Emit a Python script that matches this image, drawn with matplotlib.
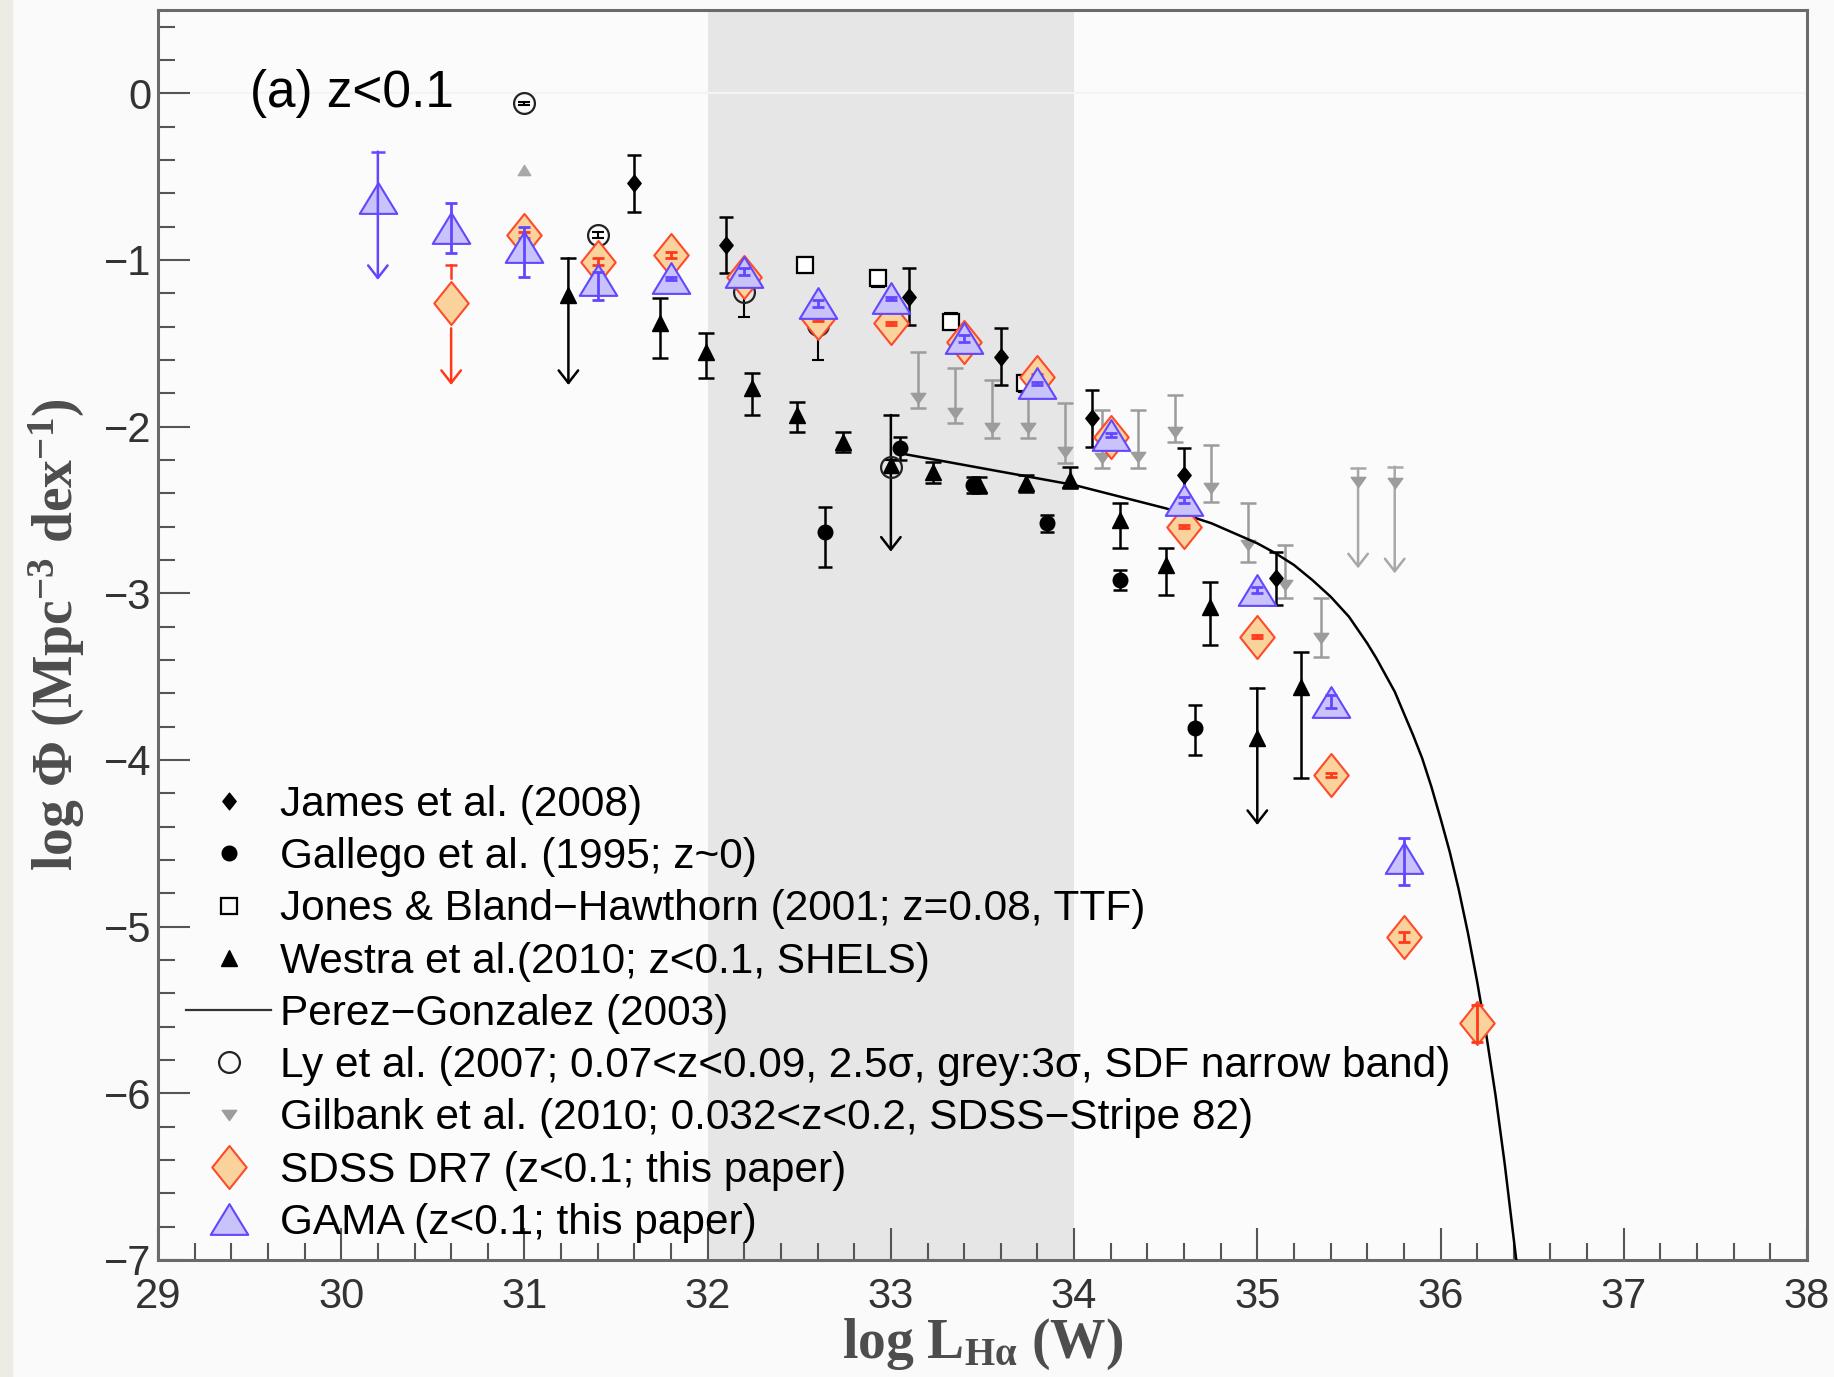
import matplotlib

matplotlib.use("Agg")
import matplotlib.pyplot as plt
from matplotlib.lines import Line2D
from matplotlib.path import Path
from matplotlib.patches import Rectangle
from matplotlib.ticker import MultipleLocator

plt.rcParams["font.family"] = ["Liberation Sans", "DejaVu Sans"]
plt.rcParams["mathtext.fontset"] = "custom"
plt.rcParams["mathtext.rm"] = "Liberation Serif:bold"
plt.rcParams["mathtext.it"] = "Liberation Serif:italic:bold"
plt.rcParams["mathtext.bf"] = "Liberation Serif:bold"

# ---- values (x = log L_Halpha [W], y = log Phi) ----
james_x = [31.6, 32.1, 33.1, 33.6, 34.1, 34.6, 35.1]
james_y = [-0.54, -0.91, -1.22, -1.58, -1.95, -2.29, -2.91]
james_err = [0.17, 0.17, 0.17, 0.17, 0.17, 0.16, 0.16]

gallego_x = [32.64, 33.05, 33.45, 33.85, 34.25, 34.66]
gallego_y = [-2.63, -2.13, -2.35, -2.58, -2.92, -3.81]
gallego_lo = [0.21, 0.07, 0.05, 0.05, 0.06, 0.16]
gallego_hi = [0.15, 0.07, 0.05, 0.05, 0.06, 0.14]

jones_x = [32.53, 32.93, 33.33, 33.73]
jones_y = [-1.03, -1.11, -1.37, -1.74]
jones_err = [0.05, 0.05, 0.05, 0.05]

westra_x = [31.74, 31.99, 32.24, 32.49, 32.74, 33.23, 33.48, 33.74, 33.98, 34.25, 34.50, 34.74, 35.24]
westra_y = [-1.38, -1.55, -1.77, -1.93, -2.09, -2.27, -2.35, -2.34, -2.32, -2.56, -2.83, -3.08, -3.56]
westra_lo = [0.21, 0.16, 0.16, 0.10, 0.06, 0.07, 0.05, 0.05, 0.05, 0.17, 0.18, 0.23, 0.55]
westra_hi = [0.15, 0.11, 0.09, 0.08, 0.06, 0.06, 0.05, 0.05, 0.08, 0.10, 0.10, 0.15, 0.21]
westra_lim_x = [31.24, 33.0, 35.0]
westra_lim_y = [-1.21, -2.23, -3.87]
westra_lim_top = [-0.99, -1.93, -3.57]
westra_lim_tip = [-1.75, -2.75, -4.39]

perez_x = [33.05, 33.5, 34.0, 34.5, 34.75, 35.0, 35.1, 35.2, 35.3, 35.4, 35.5, 35.6, 35.65, 35.75,
           35.85, 35.9, 35.95, 36.0, 36.05, 36.1, 36.15, 36.2, 36.25, 36.3, 36.35, 36.42]
perez_y = [-2.16, -2.25, -2.35, -2.49, -2.58, -2.70, -2.76, -2.83, -2.92, -3.02, -3.14, -3.30, -3.39, -3.59,
           -3.85, -3.99, -4.16, -4.35, -4.55, -4.78, -5.04, -5.33, -5.65, -6.01, -6.42, -7.06]

ly_x = [31.0, 31.4, 32.2, 32.6, 33.0]
ly_y = [-0.06, -0.85, -1.19, -1.39, -2.24]
ly_lo = [0.01, 0.02, 0.15, 0.21, 0.04]
ly_hi = [0.01, 0.02, 0.03, 0.04, 0.04]
ly_grey_x = [31.0]
ly_grey_y = [-0.46]

gilbank_x = [33.15, 33.35, 33.55, 33.75, 33.95, 34.15, 34.35, 34.55, 34.75, 34.95, 35.15, 35.35]
gilbank_y = [-1.83, -1.92, -2.01, -2.01, -2.15, -2.19, -2.18, -2.03, -2.37, -2.71, -2.95, -3.27]
gilbank_top = [-1.55, -1.65, -1.72, -1.80, -1.86, -1.90, -1.90, -1.81, -2.11, -2.46, -2.71, -3.03]
gilbank_bot = [-1.89, -1.98, -2.07, -2.07, -2.22, -2.25, -2.25, -2.09, -2.45, -2.81, -3.03, -3.38]
gilbank_lim_x = [35.55, 35.75]
gilbank_lim_y = [-2.33, -2.34]
gilbank_lim_top = [-2.25, -2.24]
gilbank_lim_tip = [-2.85, -2.88]

sdss_x = [31.0, 31.4, 31.8, 32.2, 32.6, 33.0, 33.4, 33.8, 34.2, 34.6, 35.0, 35.4, 35.8, 36.2]
sdss_y = [-0.85, -1.01, -0.97, -1.10, -1.35, -1.38, -1.49, -1.70, -2.06, -2.60, -3.26, -4.09, -5.06, -5.58]
sdss_err = [0.02, 0.02, 0.02, 0.015, 0.015, 0.01, 0.015, 0.015, 0.015, 0.01, 0.01, 0.01, 0.03, 0.11]
sdss_lim_x = [30.6]
sdss_lim_y = [-1.26]
sdss_lim_top = [-1.03]
sdss_lim_tip = [-1.75]

gama_x = [30.6, 31.0, 31.4, 31.8, 32.2, 32.6, 33.0, 33.4, 33.8, 34.2, 34.6, 35.0, 35.4, 35.8]
gama_y = [-0.81, -0.92, -1.12, -1.11, -1.07, -1.26, -1.23, -1.47, -1.74, -2.05, -2.44, -2.98, -3.65, -4.59]
gama_lo = [0.15, 0.18, 0.12, 0.01, 0.02, 0.02, 0.01, 0.02, 0.01, 0.01, 0.02, 0.02, 0.04, 0.16]
gama_hi = [0.15, 0.12, 0.05, 0.01, 0.02, 0.02, 0.01, 0.02, 0.01, 0.01, 0.02, 0.02, 0.04, 0.12]
gama_lim_x = [30.2]
gama_lim_y = [-0.63]
gama_lim_top = [-0.35]
gama_lim_tip = [-1.12]

legend_labels = [
    "James et al. (2008)",
    "Gallego et al. (1995; z~0)",
    "Jones & Bland\u2212Hawthorn (2001; z=0.08, TTF)",
    "Westra et al.(2010; z<0.1, SHELS)",
    "Perez\u2212Gonzalez (2003)",
    "Ly et al. (2007; 0.07<z<0.09, 2.5\u03c3, grey:3\u03c3, SDF narrow band)",
    "Gilbank et al. (2010; 0.032<z<0.2, SDSS\u2212Stripe 82)",
    "SDSS DR7 (z<0.1; this paper)",
    "GAMA (z<0.1; this paper)",
]

# ---- marker shapes ----
MV, LT, CP = Path.MOVETO, Path.LINETO, Path.CLOSEPOLY
tall_diamond = Path([(0, 1), (0.8, 0), (0, -1), (-0.8, 0), (0, 1)], [MV, LT, LT, LT, CP])
flat_tri_up = Path([(0, 0.82), (1, -0.82), (-1, -0.82), (0, 0.82)], [MV, LT, LT, CP])
flat_tri_down = Path([(0, -0.7), (1, 0.7), (-1, 0.7), (0, -0.7)], [MV, LT, LT, CP])

BLACK = "black"
GREY = "#9c9c9c"
SDSS_EDGE, SDSS_FACE, SDSS_ERR = "#ff4a2a", "#fad39c", "#ff3a1c"
GAMA_EDGE, GAMA_FACE = "#6247ff", "#c9c3fb"
ARROW = "->,head_length=9,head_width=7"

fig = plt.figure(figsize=(18.34, 13.77), dpi=100, facecolor="#fafafa")
fig.add_artist(Rectangle((0, 0), 0.0065, 1, transform=fig.transFigure, color="#eeeae4", zorder=0))
ax = fig.add_axes([0.08615, 0.08497, 0.8991, 0.9078])
ax.set_facecolor("#fbfbfb")

ax.axvspan(32, 34, color="#e6e6e6", lw=0, zorder=0.5)
ax.axhline(0, color="#f4f4f4", lw=1.5, zorder=0.6)


def draw_arrow(x, start, tip, color, lw, z):
    ax.annotate("", xy=(x, tip), xytext=(x, start),
                arrowprops=dict(arrowstyle=ARROW, mutation_scale=1, color=color, lw=lw,
                                shrinkA=0, shrinkB=0), zorder=z)


def draw_limits(xs, tops, tips, color, lw, capsize, z):
    for x, top, tip in zip(xs, tops, tips):
        draw_arrow(x, top, tip, color, lw, z)
    ax.plot(xs, tops, ls="none", marker="_", ms=2 * capsize, mew=lw, color=color, zorder=z)


# Gilbank (grey)
ax.errorbar(gilbank_x, gilbank_y,
            yerr=[[y - b for y, b in zip(gilbank_y, gilbank_bot)], [t - y for t, y in zip(gilbank_top, gilbank_y)]],
            fmt="none", ecolor=GREY, elinewidth=1.8, capsize=5.5, capthick=1.8, zorder=2)
ax.plot(gilbank_x, gilbank_y, ls="none", marker=flat_tri_down, ms=10.5, color=GREY, zorder=2.1)
draw_limits(gilbank_lim_x, gilbank_lim_top, gilbank_lim_tip, "#a8a8a8", 1.8, 5.5, 2)
ax.plot(gilbank_lim_x, gilbank_lim_y, ls="none", marker=flat_tri_down, ms=10.5, color=GREY, zorder=2.1)
ax.plot(ly_grey_x, ly_grey_y, ls="none", marker=flat_tri_up, ms=9, color="#a8a8a8", zorder=2.1)

# black literature points
ax.errorbar(james_x, james_y, yerr=james_err, fmt="none", ecolor=BLACK, elinewidth=1.8,
            capsize=5, capthick=1.8, zorder=3)
ax.plot(james_x, james_y, ls="none", marker=tall_diamond, ms=12, color=BLACK, zorder=3.1)

ax.errorbar(gallego_x, gallego_y, yerr=[gallego_lo, gallego_hi], fmt="none", ecolor=BLACK,
            elinewidth=1.8, capsize=5, capthick=1.8, zorder=3)
ax.plot(gallego_x, gallego_y, ls="none", marker="o", ms=10.5, color=BLACK, zorder=3.1)

ax.errorbar(jones_x, jones_y, yerr=jones_err, fmt="none", ecolor=BLACK, elinewidth=1.5,
            capsize=5, capthick=1.5, zorder=3)
ax.plot(jones_x, jones_y, ls="none", marker="s", ms=12, mfc="white", mec=BLACK, mew=1.6, zorder=3.1)

ax.errorbar(westra_x, westra_y, yerr=[westra_lo, westra_hi], fmt="none", ecolor=BLACK,
            elinewidth=1.8, capsize=5.8, capthick=1.8, zorder=3)
ax.plot(westra_x, westra_y, ls="none", marker="^", ms=11, color=BLACK, zorder=3.1)
draw_limits(westra_lim_x, westra_lim_top, westra_lim_tip, BLACK, 1.8, 5.8, 3)
ax.plot(westra_lim_x, westra_lim_y, ls="none", marker="^", ms=11, color=BLACK, zorder=3.1)

ax.errorbar(ly_x, ly_y, yerr=[ly_lo, ly_hi], fmt="none", ecolor=BLACK, elinewidth=1.5,
            capsize=4, capthick=1.5, zorder=3)
ax.plot(ly_x, ly_y, ls="none", marker="o", ms=15, mfc="none", mec="#222222", mew=1.6, zorder=3.2)

ax.plot(perez_x, perez_y, color=BLACK, lw=1.8, zorder=3.3)

# SDSS DR7
ax.plot(sdss_x, sdss_y, ls="none", marker=tall_diamond, ms=31, mfc=SDSS_FACE, mec=SDSS_EDGE, mew=1.5, zorder=4)
ax.plot(sdss_lim_x, sdss_lim_y, ls="none", marker=tall_diamond, ms=31, mfc=SDSS_FACE, mec=SDSS_EDGE, mew=1.5, zorder=4)
ax.errorbar(sdss_x, sdss_y, yerr=sdss_err, fmt="none", ecolor=SDSS_ERR, elinewidth=2,
            capsize=4.3, capthick=2, zorder=4.1)
for x, y, top, tip in zip(sdss_lim_x, sdss_lim_y, sdss_lim_top, sdss_lim_tip):
    ax.plot([x, x], [y + 0.15, top], color=SDSS_ERR, lw=1.8, zorder=4.1)
    ax.plot([x], [top], marker="_", ms=9, mew=1.8, color=SDSS_ERR, zorder=4.1)
    draw_arrow(x, y - 0.15, tip, SDSS_ERR, 1.8, 4.1)

# GAMA
ax.plot(gama_x, gama_y, ls="none", marker=flat_tri_up, ms=27, mfc=GAMA_FACE, mec=GAMA_EDGE, mew=1.5, zorder=5)
ax.plot(gama_lim_x, gama_lim_y, ls="none", marker=flat_tri_up, ms=27, mfc=GAMA_FACE, mec=GAMA_EDGE, mew=1.5, zorder=5)
ax.errorbar(gama_x, gama_y, yerr=[gama_lo, gama_hi], fmt="none", ecolor=GAMA_EDGE, elinewidth=2,
            capsize=4.5, capthick=2, zorder=5.1)
draw_limits(gama_lim_x, gama_lim_top, gama_lim_tip, GAMA_EDGE, 1.8, 4.7, 5.1)

ax.text(29.5, 0.0, "(a) z<0.1", fontsize=37, ha="left", va="center", color="black")

# axes styling
ax.set_xlim(29, 38)
ax.set_ylim(-7, 0.5)
ax.xaxis.set_major_locator(MultipleLocator(1))
ax.xaxis.set_minor_locator(MultipleLocator(0.2))
ax.yaxis.set_major_locator(MultipleLocator(1))
ax.yaxis.set_minor_locator(MultipleLocator(0.2))
ax.tick_params(which="both", direction="in", top=False, right=False, color="#555555", width=1.5)
ax.tick_params(which="major", length=23, labelsize=30, labelcolor="#333333")
ax.tick_params(which="minor", length=12)
ax.tick_params(axis="x", pad=12)
ax.tick_params(axis="y", pad=5)
for side in ["left", "bottom", "top", "right"]:
    ax.spines[side].set_color("#6a6a6a")
    ax.spines[side].set_linewidth(2.2)

ax.set_xlabel(r"log L$_{\mathrm{H\alpha}}$ (W)", fontsize=40, family="Liberation Serif",
              weight="bold", color="#4d4d4d", labelpad=0)
ax.set_ylabel("log \u03a6 (Mpc$^{-3}$ dex$^{-1}$)", fontsize=40, family="Liberation Serif",
              weight="bold", color="#4d4d4d", labelpad=12)

handles = [
    Line2D([], [], ls="none", marker=tall_diamond, ms=12, color=BLACK),
    Line2D([], [], ls="none", marker="o", ms=10.5, color=BLACK),
    Line2D([], [], ls="none", marker="s", ms=12, mfc="none", mec=BLACK, mew=1.6),
    Line2D([], [], ls="none", marker="^", ms=11, color=BLACK),
    Line2D([], [], color="#333333", lw=1.6),
    Line2D([], [], ls="none", marker="o", ms=15, mfc="none", mec="#222222", mew=1.6),
    Line2D([], [], ls="none", marker=flat_tri_down, ms=10.5, color=GREY),
    Line2D([], [], ls="none", marker=tall_diamond, ms=31, mfc=SDSS_FACE, mec=SDSS_EDGE, mew=1.5),
    Line2D([], [], ls="none", marker=flat_tri_up, ms=27, mfc=GAMA_FACE, mec=GAMA_EDGE, mew=1.5),
]
ax.legend(handles, legend_labels, loc="lower left", bbox_to_anchor=(0.007, 0.0), frameon=False,
          fontsize=30.5, handlelength=2.0, handletextpad=0.2, labelspacing=0.29, borderaxespad=0.0,
          numpoints=1)

fig.savefig("out.png", dpi=100, facecolor=fig.get_facecolor())
